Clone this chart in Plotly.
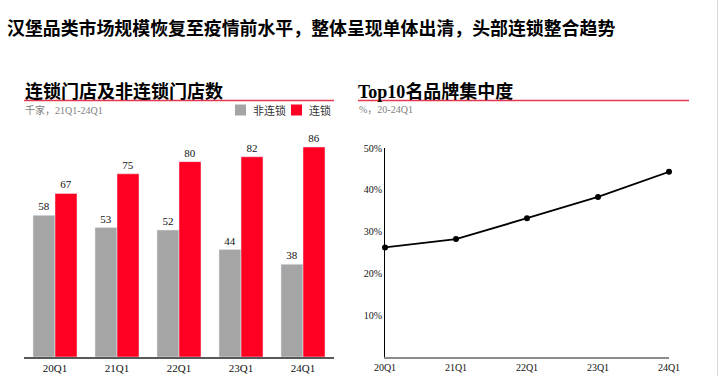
import plotly.graph_objects as go

W, H = 719, 376

categories = ["20Q1", "21Q1", "22Q1", "23Q1", "24Q1"]
series_names = ["非连锁", "连锁"]
non_chain = [58, 53, 52, 44, 38]
chain = [67, 75, 80, 82, 86]
top10_share = [26.2, 28.2, 33.2, 38.3, 44.3]
y2_ticks = [10, 20, 30, 40, 50]
y2_ticklabels = ["10%", "20%", "30%", "40%", "50%"]

GRAY = "#A5A5A5"
RED = "#FF0022"
SERIF = "Liberation Serif, Times New Roman, serif"
CJK = "Noto Sans CJK SC, sans-serif"


def fx(px):
    return px / W


def fy(py):
    return (H - py) / H


fig = go.Figure()

for name, vals, col in [(series_names[0], non_chain, GRAY), (series_names[1], chain, RED)]:
    fig.add_trace(go.Bar(
        x=categories, y=vals, name=name, marker_color=col,
        text=vals, textposition="outside", cliponaxis=False,
        textfont=dict(family=SERIF, size=11, color="#111"),
        showlegend=False, xaxis="x", yaxis="y",
    ))

fig.add_trace(go.Scatter(
    x=list(range(len(categories))), y=top10_share, mode="lines+markers",
    line=dict(color="black", width=1.8), marker=dict(color="black", size=6),
    showlegend=False, cliponaxis=False, xaxis="x2", yaxis="y2",
))

fig.update_layout(
    width=W, height=H, autosize=False,
    margin=dict(l=0, r=0, t=0, b=0, pad=0, autoexpand=False),
    paper_bgcolor="white", plot_bgcolor="white",
    barmode="group", bargap=0.29, bargroupgap=0,
    showlegend=False,
    xaxis=dict(domain=[fx(24), fx(334)], range=[-0.5, 4.5], type="category",
               showline=True, linecolor="#595959", linewidth=2, ticks="",
               showgrid=False, automargin=False,
               tickfont=dict(family=SERIF, size=11, color="#111"),
               anchor="y", fixedrange=True),
    yaxis=dict(domain=[fy(357), fy(125)], range=[0, 95], visible=False,
               showgrid=False, anchor="x", fixedrange=True, automargin=False),
    xaxis2=dict(domain=[fx(385), fx(669)], range=[0, 4],
                tickmode="array", tickvals=list(range(len(categories))), ticktext=categories,
                showline=True, linecolor="#8C8C8C", linewidth=2, ticks="",
                showgrid=False, zeroline=False, automargin=False,
                tickfont=dict(family=SERIF, size=10, color="#111"),
                anchor="y2", fixedrange=True),
    yaxis2=dict(domain=[fy(357), fy(148)], range=[0, 50],
                tickmode="array", tickvals=y2_ticks, ticktext=y2_ticklabels,
                showline=True, linecolor="black", linewidth=1, ticks="",
                showgrid=False, zeroline=False, automargin=False,
                tickfont=dict(family=SERIF, size=10, color="#111"),
                anchor="x2", fixedrange=True),
)

annotations = [
    dict(text="<b>汉堡品类市场规模恢复至疫情前水平，整体呈现单体出清，头部连锁整合趋势</b>",
         x=fx(5), y=fy(27), xanchor="left", yanchor="middle",
         font=dict(family=CJK, size=17.9, color="black")),
    dict(text="<b>连锁门店及非连锁门店数</b>",
         x=fx(23), y=fy(90), xanchor="left", yanchor="middle",
         font=dict(family=CJK, size=18, color="black")),
    dict(text="<b><span style='font-family:Liberation Serif'>Top10</span>名品牌集中度</b>",
         x=fx(356), y=fy(90), xanchor="left", yanchor="middle",
         font=dict(family=CJK, size=18, color="black")),
    dict(text="千家，21Q1-24Q1",
         x=fx(23), y=fy(110), xanchor="left", yanchor="middle",
         font=dict(family=SERIF + ", Noto Sans CJK SC", size=10, color="#808080")),
    dict(text="%，20-24Q1",
         x=fx(357), y=fy(110), xanchor="left", yanchor="middle",
         font=dict(family=SERIF + ", Noto Sans CJK SC", size=10, color="#808080")),
    # legend labels (names taken from the series list)
    dict(text=series_names[0], x=fx(251), y=fy(110), xanchor="left", yanchor="middle",
         font=dict(family=CJK, size=11, color="#333")),
    dict(text=series_names[1], x=fx(307), y=fy(110), xanchor="left", yanchor="middle",
         font=dict(family=CJK, size=11, color="#333")),
]
for a in annotations:
    a.update(xref="paper", yref="paper", showarrow=False)
fig.update_layout(annotations=annotations)

shapes = [
    dict(type="line", x0=fx(24), x1=fx(334), y0=fy(100.5), y1=fy(100.5),
         line=dict(color="#E8384F", width=1.5)),
    dict(type="line", x0=fx(358), x1=fx(689), y0=fy(100.5), y1=fy(100.5),
         line=dict(color="#E8384F", width=1.5)),
    dict(type="line", x0=fx(717.5), x1=fx(717.5), y0=0, y1=1,
         line=dict(color="#D9D9D9", width=1)),
    # legend swatches
    dict(type="rect", x0=fx(235), x1=fx(246), y0=fy(104.5), y1=fy(115.5),
         fillcolor=GRAY, line=dict(width=0)),
    dict(type="rect", x0=fx(291), x1=fx(302), y0=fy(104.5), y1=fy(115.5),
         fillcolor=RED, line=dict(width=0)),
]
for s in shapes:
    s.update(xref="paper", yref="paper")
fig.update_layout(shapes=shapes)

fig.write_html("out.html", config={"displayModeBar": False, "staticPlot": True},
               post_script="document.body.style.margin='0';")
